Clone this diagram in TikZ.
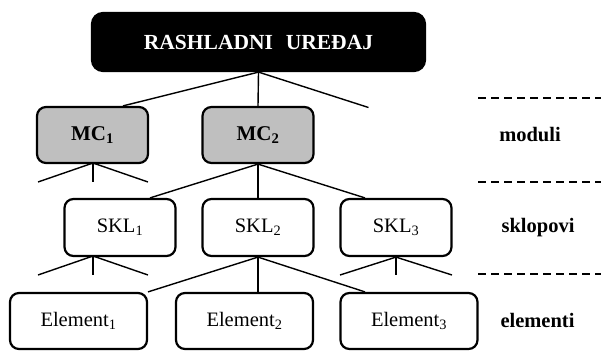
\documentclass[tikz,border=0pt]{standalone}
\usepackage{fontspec}
\setmainfont{Liberation Serif}
\begin{document}
\begin{tikzpicture}[x=1pt,y=-1pt,
  box/.style={draw=black,line width=2.2pt,rounded corners=9pt,inner sep=0pt,
    minimum width=111pt,minimum height=56pt,font=\fontsize{20.5}{24}\selectfont},
  topbox/.style={box,fill=black,text=white,minimum width=333pt,minimum height=58pt,
    rounded corners=11pt,font=\fontsize{21.5}{24}\selectfont\bfseries},
  mcbox/.style={box,fill=gray!50,font=\fontsize{21}{24}\selectfont\bfseries},
  elbox/.style={box,minimum width=137pt},
  conn/.style={line width=1.4pt},
  level/.style={line width=1.4pt,dash pattern=on 7.5pt off 5.5pt},
  lab/.style={font=\fontsize{20.5}{24}\selectfont\bfseries,inner sep=0pt}]
\useasboundingbox (0,0) rectangle (601,358);
% nodes
\node[topbox] (top) at (258.5,42) {RASHLADNI\hspace{0.6em}UREĐAJ};
\node[mcbox] (mc1) at (92.5,135) {MC\textsubscript{1}};
\node[mcbox] (mc2) at (258,135) {MC\textsubscript{2}};
\node[box,minimum height=57pt] (skl1) at (120,227.5) {SKL\textsubscript{1}};
\node[box,minimum height=57pt] (skl2) at (258,227.5) {SKL\textsubscript{2}};
\node[box,minimum height=57pt] (skl3) at (396,227.5) {SKL\textsubscript{3}};
\node[elbox] (e1) at (78.5,321) {Element\textsubscript{1}};
\node[elbox] (e2) at (244.5,321) {Element\textsubscript{2}};
\node[elbox] (e3) at (409,321) {Element\textsubscript{3}};
\node[lab] (lmod) at (530,135) {moduli};
\node[lab] (lskl) at (538,227.5) {sklopovi};
\node[lab] (lel) at (537.5,320) {elementi};
% free ends
\coordinate (t3) at (368.5,107.5);
\coordinate (m1a) at (38,182);
\coordinate (m1b) at (93,182);
\coordinate (m1c) at (148,182);
\coordinate (m1j) at (93,163);
\coordinate (s1j) at (93,256);
\coordinate (s1a) at (38,275);
\coordinate (s1b) at (93,275);
\coordinate (s1c) at (148,275);
\coordinate (s3a) at (340,275);
\coordinate (s3b) at (396,275);
\coordinate (s3c) at (452,275);
\coordinate (d1a) at (478,98);  \coordinate (d1b) at (601,98);
\coordinate (d2a) at (478,182); \coordinate (d2b) at (601,182);
\coordinate (d3a) at (478,274); \coordinate (d3b) at (601,274);
% connectors
\draw[conn] (top.south) -- ([xshift=30.5pt]mc1.north);
\draw[conn] (top.south) -- (mc2.north);
\draw[conn] (top.south) -- (t3);
\draw[conn] (m1j) -- (m1a);
\draw[conn] (m1j) -- (m1b);
\draw[conn] (m1j) -- (m1c);
\draw[conn] (mc2.south) -- ([xshift=30pt]skl1.north);
\draw[conn] (mc2.south) -- (skl2.north);
\draw[conn] (mc2.south) -- ([xshift=-31pt]skl3.north);
\draw[conn] (s1j) -- (s1a);
\draw[conn] (s1j) -- (s1b);
\draw[conn] (s1j) -- (s1c);
\draw[conn] (skl2.south) -- ([xshift=69.5pt]e1.north);
\draw[conn] (skl2.south) -- ([xshift=13.5pt]e2.north);
\draw[conn] (skl2.south) -- ([xshift=-44pt]e3.north);
\draw[conn] (skl3.south) -- (s3a);
\draw[conn] (skl3.south) -- (s3b);
\draw[conn] (skl3.south) -- (s3c);
\draw[level] (d1a) -- (d1b);
\draw[level] (d2a) -- (d2b);
\draw[level] (d3a) -- (d3b);
\end{tikzpicture}
\end{document}
